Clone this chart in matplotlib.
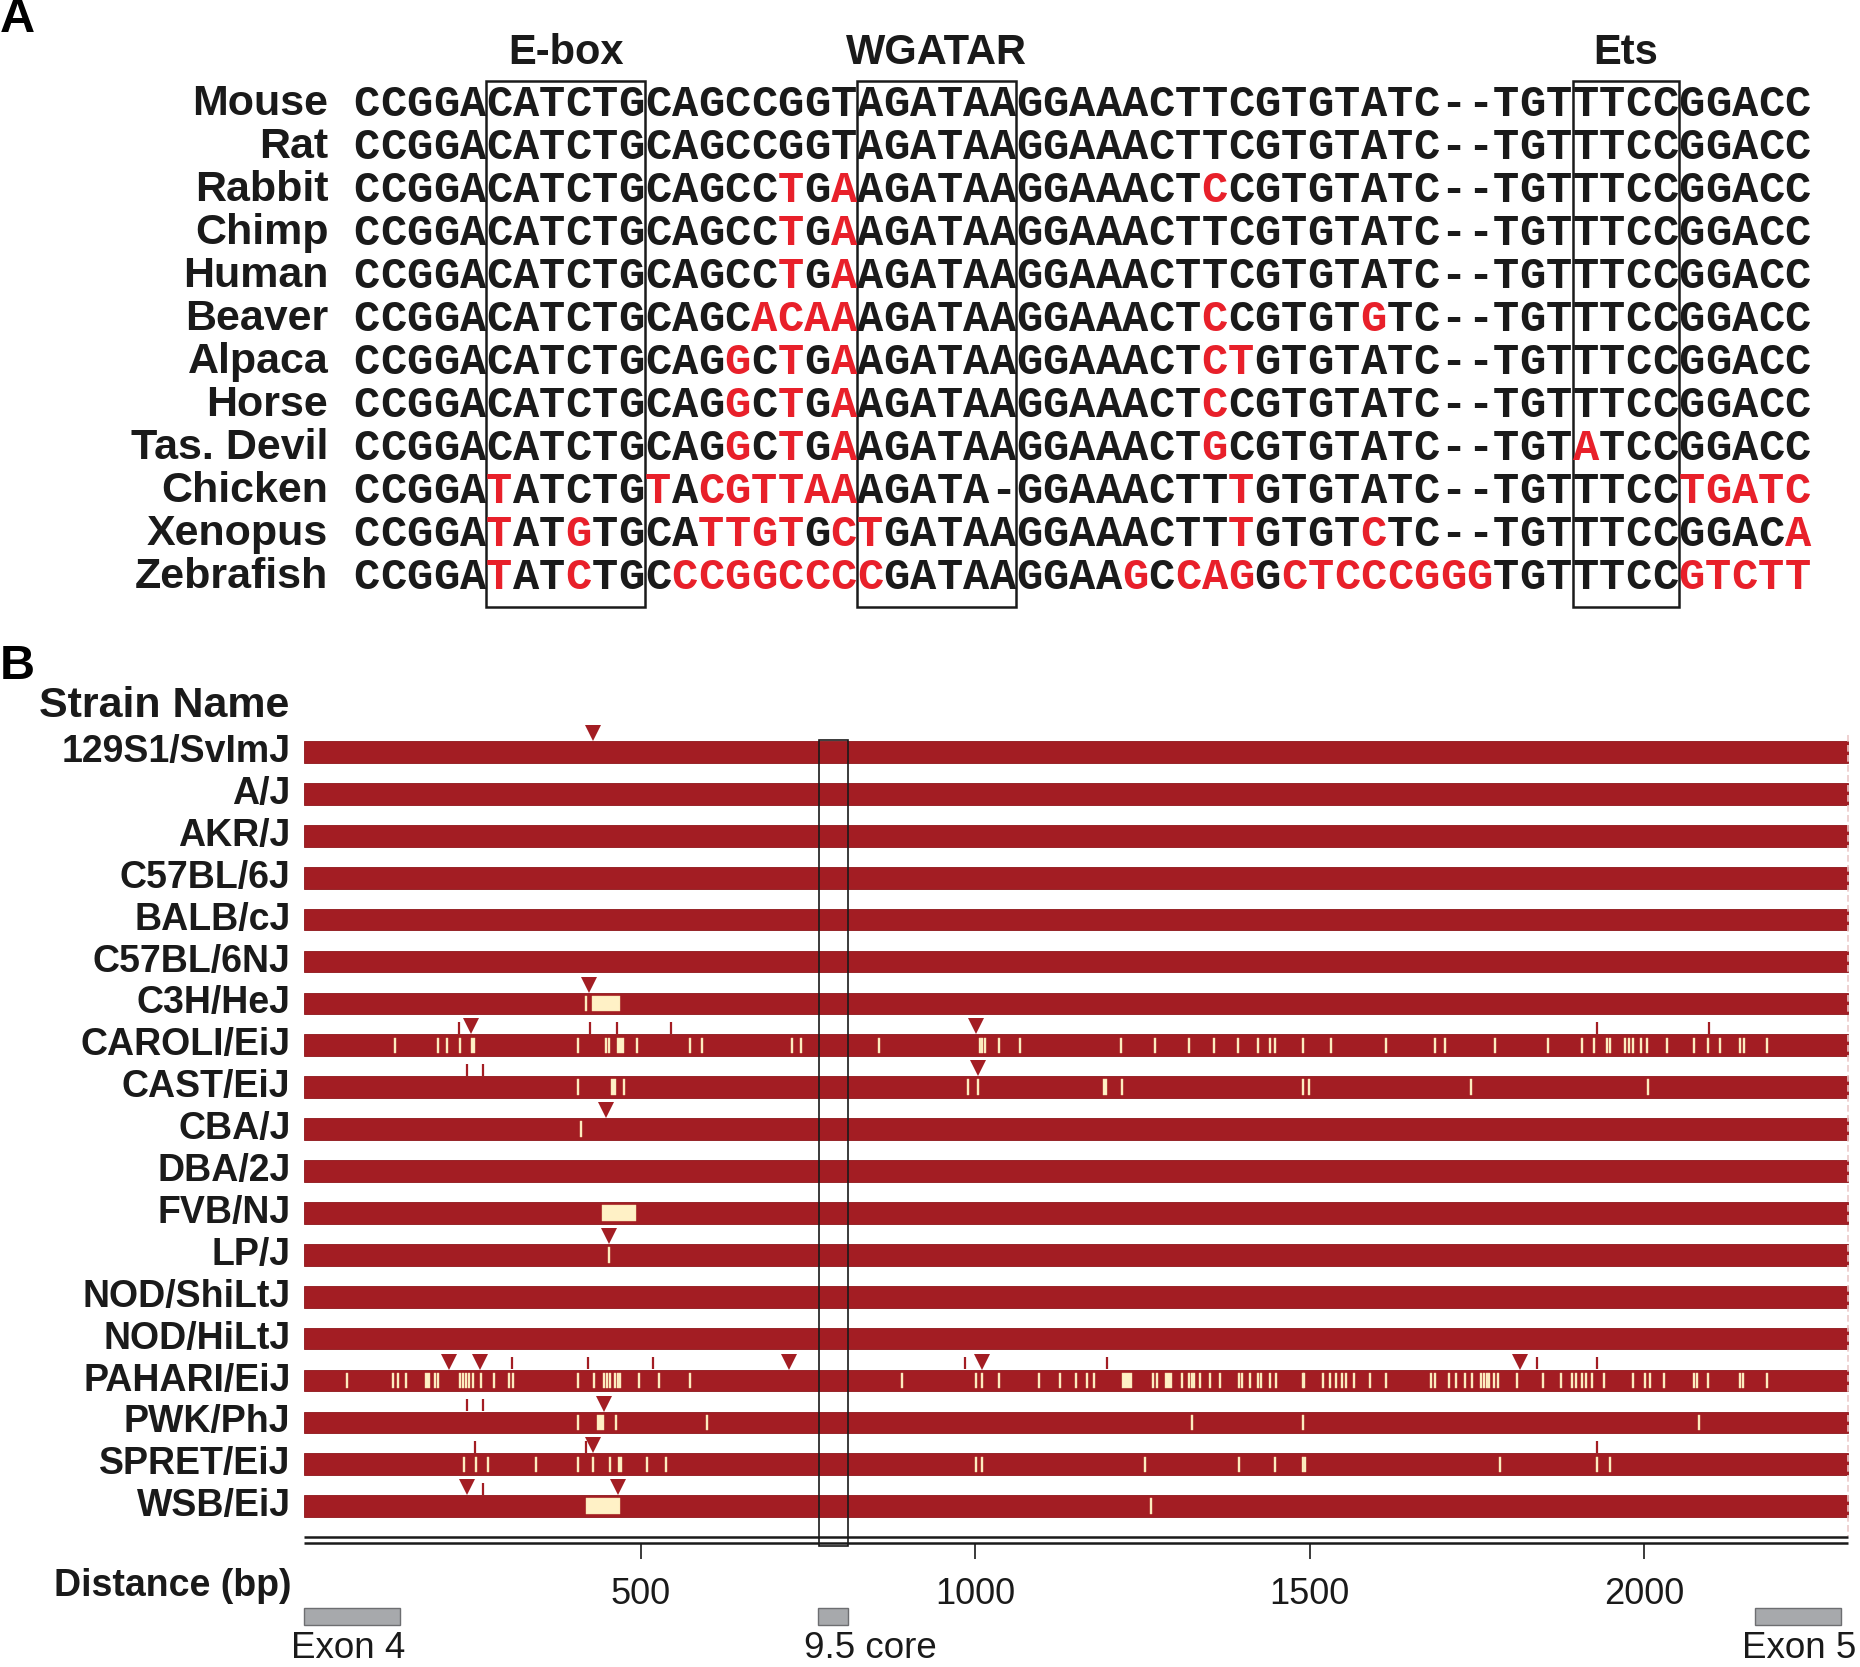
import matplotlib
matplotlib.use("Agg")
import matplotlib.pyplot as plt
from matplotlib.patches import Rectangle

plt.rcParams['font.family'] = ['Liberation Sans', 'DejaVu Sans']

# ---- panel A: alignment ----
species = ["Mouse", "Rat", "Rabbit", "Chimp", "Human", "Beaver", "Alpaca",
           "Horse", "Tas. Devil", "Chicken", "Xenopus", "Zebrafish"]
sequences = [
    "CCGGACATCTGCAGCCGGTAGATAAGGAAACTTCGTGTATC--TGTTTCCGGACC",
    "CCGGACATCTGCAGCCGGTAGATAAGGAAACTTCGTGTATC--TGTTTCCGGACC",
    "CCGGACATCTGCAGCCTGAAGATAAGGAAACTCCGTGTATC--TGTTTCCGGACC",
    "CCGGACATCTGCAGCCTGAAGATAAGGAAACTTCGTGTATC--TGTTTCCGGACC",
    "CCGGACATCTGCAGCCTGAAGATAAGGAAACTTCGTGTATC--TGTTTCCGGACC",
    "CCGGACATCTGCAGCACAAAGATAAGGAAACTCCGTGTGTC--TGTTTCCGGACC",
    "CCGGACATCTGCAGGCTGAAGATAAGGAAACTCTGTGTATC--TGTTTCCGGACC",
    "CCGGACATCTGCAGGCTGAAGATAAGGAAACTCCGTGTATC--TGTTTCCGGACC",
    "CCGGACATCTGCAGGCTGAAGATAAGGAAACTGCGTGTATC--TGTATCCGGACC",
    "CCGGATATCTGTACGTTAAAGATA-GGAAACTTTGTGTATC--TGTTTCCTGATC",
    "CCGGATATGTGCATTGTGCTGATAAGGAAACTTTGTGTCTC--TGTTTCCGGACA",
    "CCGGATATCTGCCCGGCCCCGATAAGGAAGCCAGGCTCCCGGGTGTTTCCGTCTT",
]
# 1-based columns drawn in red
red_positions = [
    [], [], [17, 19, 33], [17, 19], [17, 19],
    [16, 17, 18, 19, 33, 39],
    [15, 17, 19, 33, 34],
    [15, 17, 19, 33],
    [15, 17, 19, 33, 47],
    [6, 12, 14, 15, 16, 17, 18, 19, 34, 51, 52, 53, 54, 55],
    [6, 9, 14, 15, 16, 17, 19, 20, 34, 39, 55],
    [6, 9, 13, 14, 15, 16, 17, 18, 19, 20, 30, 32, 33, 34, 36, 37, 38, 39,
     40, 41, 42, 43, 51, 52, 53, 54, 55],
]
motif_names = ["E-box", "WGATAR", "Ets"]
motif_start = [6, 20, 47]
motif_end = [11, 25, 50]

# ---- panel B: strain variants (bp) ----
strains = ["129S1/SvImJ", "A/J", "AKR/J", "C57BL/6J", "BALB/cJ", "C57BL/6NJ",
           "C3H/HeJ", "CAROLI/EiJ", "CAST/EiJ", "CBA/J", "DBA/2J", "FVB/NJ",
           "LP/J", "NOD/ShiLtJ", "NOD/HiLtJ", "PAHARI/EiJ", "PWK/PhJ",
           "SPRET/EiJ", "WSB/EiJ"]
region_len = 2305

caroli_snps = [133, 198, 211, 230, 406, 448, 453, 495, 574, 592, 726, 740, 857,
               1008, 1011, 1015, 1036, 1067, 1218, 1269, 1320, 1357, 1393, 1423,
               1441, 1449, 1490, 1532, 1615, 1687, 1702, 1777, 1857, 1907, 1925,
               1945, 1949, 1972, 1977, 1983, 1996, 2004, 2034, 2075, 2096, 2114,
               2144, 2149, 2184]
pahari_snps = [61, 130, 138, 150, 193, 198, 230, 235, 239, 243, 249, 261, 281,
               304, 310, 406, 430, 446, 450, 454, 462, 466, 470, 498, 528, 574,
               891, 1001, 1011, 1036, 1095, 1127, 1151, 1167, 1178, 1266, 1272,
               1310, 1320, 1324, 1328, 1337, 1351, 1366, 1395, 1399, 1411, 1423,
               1427, 1441, 1450, 1490, 1492, 1520, 1530, 1539, 1548, 1554, 1566,
               1590, 1615, 1682, 1687, 1709, 1719, 1732, 1743, 1757, 1761, 1765,
               1769, 1776, 1782, 1810, 1849, 1876, 1893, 1899, 1907, 1914, 1923,
               1940, 1984, 2001, 2009, 2030, 2075, 2079, 2096, 2144, 2148, 2184]
cast_snps = [406, 476, 990, 1004, 1220, 1490, 1499, 1742, 2006]
pwk_snps = [406, 463, 599, 1325, 1490, 2082]
spret_snps = [236, 254, 272, 344, 406, 429, 454, 510, 538, 1001, 1011, 1254,
              1395, 1449, 1490, 1494, 1785, 1930, 1949]
snps = {"C3H/HeJ": [419], "CAROLI/EiJ": caroli_snps, "CAST/EiJ": cast_snps,
        "CBA/J": [411], "LP/J": [453], "PAHARI/EiJ": pahari_snps,
        "PWK/PhJ": pwk_snps, "SPRET/EiJ": spret_snps, "WSB/EiJ": [1263]}
blocks = {"C3H/HeJ": [(427, 469)], "CAROLI/EiJ": [(246, 253), (465, 476)],
          "CAST/EiJ": [(456, 463), (1191, 1198)], "FVB/NJ": [(442, 493)],
          "PAHARI/EiJ": [(178, 185), (1220, 1234), (1284, 1294)],
          "PWK/PhJ": [(435, 446)], "SPRET/EiJ": [(467, 473)],
          "WSB/EiJ": [(418, 469)]}
indels = {"129S1/SvImJ": [429], "C3H/HeJ": [423], "CAROLI/EiJ": [246, 1002],
          "CAST/EiJ": [1004], "CBA/J": [448], "LP/J": [453],
          "PAHARI/EiJ": [214, 260, 722, 1011, 1814], "PWK/PhJ": [445],
          "SPRET/EiJ": [429], "WSB/EiJ": [240, 467]}
above_ticks = {"CAROLI/EiJ": [228, 425, 465, 545, 1930, 2097],
               "CAST/EiJ": [240, 264],
               "PAHARI/EiJ": [308, 422, 518, 985, 1198, 1840, 1930],
               "PWK/PhJ": [240, 264], "SPRET/EiJ": [253, 419, 1930],
               "WSB/EiJ": [264]}
core_box = (767, 810)
tick_vals = [500, 1000, 1500, 2000]
exon_names = ["Exon 4", "9.5 core", "Exon 5"]
exon_start = [-3, 765, 2166]
exon_end = [140, 810, 2294]

W, H = 1860, 1667
bar_red = "#a31d23"
cream = "#fff1c6"
seq_red = "#e8202a"

fig = plt.figure(figsize=(W / 100, H / 100), dpi=100)

# panel A axes: x = column, y = row
colw = 26.5
x0a = 353.5
rowa0, rowa_step = 104.4, 43.0
top_px = rowa0 - rowa_step / 2
bot_px = rowa0 + rowa_step * 11.5
axa = fig.add_axes([x0a / W, 1 - bot_px / H, 55 * colw / W, (bot_px - top_px) / H])
axa.set_xlim(0, 55)
axa.set_ylim(11.5, -0.5)
axa.axis('off')

for r, (name, seq) in enumerate(zip(species, sequences)):
    reds = set(red_positions[r])
    for i, ch in enumerate(seq):
        axa.text(i + 0.5, r, ch, ha='center', va='center', fontsize=31.5,
                 family='Liberation Mono', fontweight='bold',
                 color=seq_red if (i + 1) in reds else '#1a1a1a')
    axa.text(-0.95, r, name, ha='right', va='center', fontsize=31,
             fontweight='bold', color='#1a1a1a')

for name, s, e in zip(motif_names, motif_start, motif_end):
    axa.add_patch(Rectangle((s - 1, -0.55), e - s + 1, 12.24, fill=False,
                            lw=1.8, edgecolor='#1a1a1a', clip_on=False))
    axa.text((s - 1 + e) / 2, -1.2, name, ha='center', va='center',
             fontsize=30, fontweight='bold', color='#1a1a1a')

fig.text(0.0, 1 - 20 / H, "A", fontsize=35, fontweight='bold', va='center')
fig.text(0.0, 1 - 666 / H, "B", fontsize=35, fontweight='bold', va='center')

# panel B axes: x = bp, y = strain row
px_per_bp = 0.669
bp0_px = 306
row0, row_step = 752, 41.9
xl = (-5, 2310)
left_px = bp0_px + px_per_bp * xl[0]
right_px = bp0_px + px_per_bp * xl[1]
top_b = row0 - 1.5 * row_step
bot_row = (H - row0) / row_step
axb = fig.add_axes([left_px / W, 0, (right_px - left_px) / W, (H - top_b) / H])
axb.set_xlim(*xl)
axb.set_ylim(bot_row, -1.5)
axb.axis('off')

rows = list(range(len(strains)))
bar_h = 0.52
axb.barh(rows, region_len + 3, left=-3, height=bar_h, color=bar_red,
         edgecolor='#8e1519', linewidth=0.6)
axb.vlines(region_len, -0.4, 18.7, colors='#ebc9c9', lw=1.2, linestyles=(0, (4, 2)))

for r, st in enumerate(strains):
    axb.text(-23, r, st, ha='right', va='center', fontsize=27,
             fontweight='bold', color='#1a1a1a')
    pos = snps.get(st, [])
    if pos:
        axb.barh([r] * len(pos), 3, left=[p - 1.5 for p in pos], height=0.37,
                 color=cream, edgecolor='#f3d9a8', linewidth=0.3)
    for s, e in blocks.get(st, []):
        axb.barh(r, e - s, left=s, height=0.37, color=cream,
                 edgecolor='#f3d9a8', linewidth=0.3)
    tri = indels.get(st, [])
    if tri:
        axb.plot(tri, [r - 0.45] * len(tri), 'v', ms=11, color=bar_red, mew=0)
    tk = above_ticks.get(st, [])
    if tk:
        axb.plot(tk, [r - 0.42] * len(tk), '|', ms=8, mew=1.6, color=bar_red)

axb.add_patch(Rectangle((core_box[0], -0.29), core_box[1] - core_box[0], 19.23,
                        fill=False, lw=1.2, edgecolor='#1a1a1a'))
axb.text(-399, -1.1, "Strain Name", ha='left', va='center', fontsize=31,
         fontweight='bold', color='#1a1a1a')

# distance axis
axb.hlines([18.73, 18.88], -3, region_len, colors='#1a1a1a', lw=1.8)
axb.vlines(tick_vals, 18.9, 19.25, colors='#1a1a1a', lw=1.2)
for t in tick_vals:
    axb.text(t, 20.1, str(t), ha='center', va='center', fontsize=26,
             color='#1a1a1a')
axb.text(-199, 19.9, "Distance (bp)", ha='center', va='center', fontsize=27,
         fontweight='bold', color='#1a1a1a')

for name, s, e in zip(exon_names, exon_start, exon_end):
    axb.barh(20.63, e - s, left=s, height=0.4, color='#a7a9ac',
             edgecolor='#6d6e71', linewidth=1.0)
    axb.text(s - 20, 21.4, name, ha='left', va='center', fontsize=26.5,
             color='#1a1a1a')

fig.savefig("out.png", dpi=100)
